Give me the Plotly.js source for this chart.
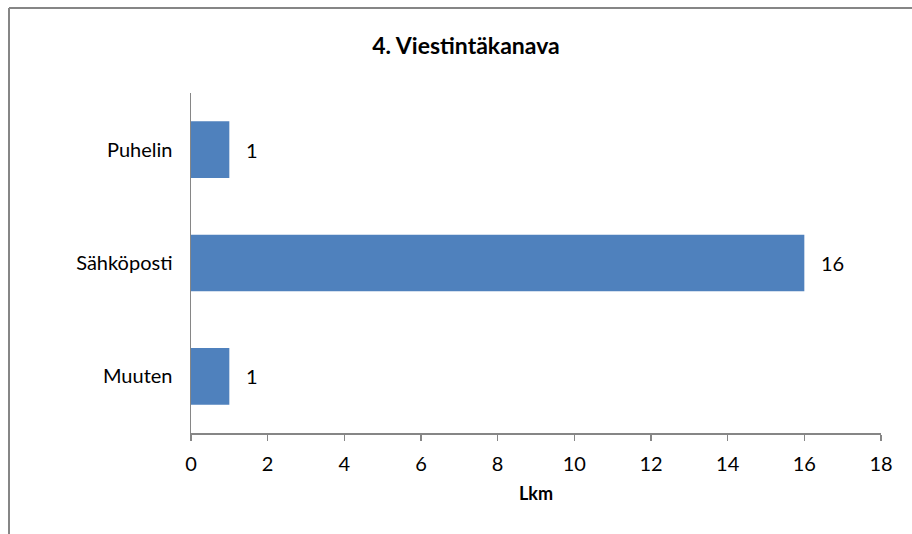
<!DOCTYPE html>
<html>
<head>
<meta charset="utf-8">
<script src="https://cdn.plot.ly/plotly-3.0.1.min.js"></script>
<style>html,body{margin:0;padding:0;background:#fff;}#chart{width:912px;height:534px;}</style>
</head>
<body>
<div id="chart"></div>
<script>
const categories = ['Muuten', 'Sähköposti', 'Puhelin'];
const values = [1, 16, 1];
const xTicks = [0, 2, 4, 6, 8, 10, 12, 14, 16, 18];

const FONT = 'Lato, "Open Sans", sans-serif';
const AXIS_COLOR = '#868686';

const trace = {
  type: 'bar',
  orientation: 'h',
  y: categories,
  x: values,
  marker: {color: '#4F81BD'},
  hoverinfo: 'none'
};

const annotations = categories.map((c, i) => ({
  x: values[i], y: c, xref: 'x', yref: 'y',
  text: String(values[i]), showarrow: false,
  xanchor: 'left', xshift: 15,
  font: {family: FONT, size: 20, color: '#000'}
}));

const PLOT_TOP = 93, PLOT_BOTTOM = 433, PLOT_LEFT = 191, PLOT_RIGHT = 881;
const PH = PLOT_BOTTOM - PLOT_TOP, PW = PLOT_RIGHT - PLOT_LEFT;

const layout = {
  width: 912, height: 534,
  margin: {l: PLOT_LEFT, r: 912 - PLOT_RIGHT, t: PLOT_TOP, b: 534 - PLOT_BOTTOM},
  paper_bgcolor: '#fff', plot_bgcolor: '#fff',
  bargap: 0.5,
  showlegend: false,
  title: {
    text: '<b>4. Viestintäkanava</b>',
    font: {family: FONT, size: 23, color: '#000'},
    x: 466 / 912, xanchor: 'center', xref: 'container',
    y: 1 - 46 / 534, yanchor: 'middle', yref: 'container'
  },
  xaxis: {
    range: [0, 18], tickvals: xTicks, ticktext: xTicks.map(String),
    showgrid: false, zeroline: false,
    showline: true, linecolor: AXIS_COLOR, linewidth: 1.5,
    ticks: 'outside', ticklen: 6, tickcolor: AXIS_COLOR, tickwidth: 1.5,
    tickfont: {family: FONT, size: 20, color: '#000'},
    ticklabelstandoff: 6,
    title: {text: '<b>Lkm</b>', font: {family: FONT, size: 18, color: '#000'}, standoff: 14},
    fixedrange: true
  },
  yaxis: {
    type: 'category', categoryorder: 'array', categoryarray: categories,
    showgrid: false, zeroline: false,
    showline: true, linecolor: AXIS_COLOR, linewidth: 1.5,
    ticks: '',
    tickfont: {family: FONT, size: 20, color: '#000'},
    ticklabelstandoff: 13,
    fixedrange: true
  },
  annotations: annotations,
  shapes: [
    {type: 'line', xref: 'paper', yref: 'paper',
     x0: (9 - PLOT_LEFT) / PW, x1: (9 - PLOT_LEFT) / PW,
     y0: (PLOT_BOTTOM - 8) / PH, y1: (PLOT_BOTTOM - 540) / PH,
     line: {color: AXIS_COLOR, width: 2}},
    {type: 'line', xref: 'paper', yref: 'paper',
     x0: (9 - PLOT_LEFT) / PW, x1: (920 - PLOT_LEFT) / PW,
     y0: (PLOT_BOTTOM - 8) / PH, y1: (PLOT_BOTTOM - 8) / PH,
     line: {color: AXIS_COLOR, width: 2}}
  ]
};

Plotly.newPlot('chart', [trace], layout, {displayModeBar: false, staticPlot: true});
</script>
</body>
</html>
